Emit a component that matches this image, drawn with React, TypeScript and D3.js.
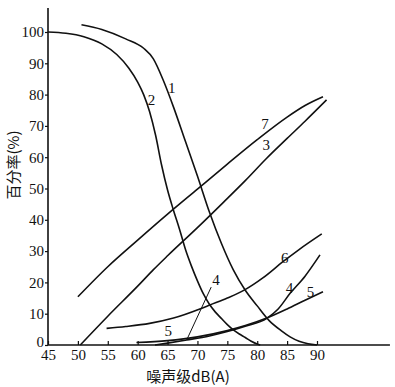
import { useEffect, useRef } from "react";
import * as d3 from "d3";

// tick values
const xTicks = [45, 50, 55, 60, 65, 70, 75, 80, 85, 90];
const yTicks = [0, 10, 20, 30, 40, 50, 60, 70, 80, 90, 100];

// curves, [dB(A), %]
const curve1 = [[50.6, 102.3], [54, 100.8], [58, 97.8], [61, 94.8], [62.6, 91.5], [64.3, 84.5], [66, 76], [68, 65], [70, 54], [72, 42.5], [74, 32.5], [76, 24], [78, 17.5], [80, 12.5], [82, 7.8], [84, 4.6], [85.5, 2.6], [87, 1.2], [88.5, 0.4], [90, 0]];
const curve2 = [[45, 100], [48, 99.6], [51, 98.5], [54, 96.2], [56.5, 92.8], [58.5, 88.5], [60, 84], [61, 80], [62, 74.5], [63, 67], [64, 57.5], [65, 49.5], [66, 43], [67, 37], [68, 30.5], [69, 25.2], [70, 20.5], [71, 16.3], [72, 13], [73, 10.5], [74, 8.5], [75, 6.5], [76, 4.8], [77, 3.5], [78, 2.4], [79, 1.2], [80, 0.3], [80.5, 0]];
const curve3 = [[50.4, 0], [55, 9.2], [60, 18.8], [62.6, 24], [65, 28.5], [70, 37.5], [74.3, 45.5], [78, 52.5], [81.5, 59.5], [85, 66], [88, 71.5], [91.6, 78.3]];
const curve4 = [[62.9, 0], [65, 0.6], [68.2, 1.6], [72, 2.9], [75, 4.3], [78, 6], [81.6, 8.5], [83.5, 11.5], [85.5, 16.5], [88, 22], [90.5, 28.8]];
const curve5 = [[59.8, 0.8], [65, 1.4], [70, 2.6], [75, 4.6], [78, 6.2], [81.6, 8.6], [85, 11.5], [88, 14.3], [91, 17]];
const curve6 = [[54.8, 5.3], [58, 5.9], [62, 6.9], [66, 8.6], [70.4, 11.5], [72.1, 12.8], [75, 15], [77.9, 17.6], [81, 21.5], [84.3, 26.6], [87, 30.5], [90.8, 35.5]];
const curve7 = [[50, 15.4], [55, 25], [60, 33.5], [65, 41.8], [70, 49.8], [75, 57.8], [80, 65.6], [85, 72.8], [88, 76.5], [91, 79.3]];

const curves = [curve1, curve2, curve3, curve4, curve5, curve6, curve7];

// curve numbers and where they sit
const labelText = ["1", "2", "7", "3", "6", "4", "5", "4", "5"];
const labelX = [65.7, 62.3, 81.3, 81.5, 84.6, 85.4, 88.9, 73.1, 65.1];
const labelY = [82.3, 78.3, 70.6, 64.1, 27.9, 18.4, 17.0, 21.0, 4.6];

// pointer from the middle "4" down to curve 4
const leader = [[72.3, 18.5], [68.2, 1.6]];

export default function App() {
    const svgRef = useRef(null);

    useEffect(() => {
        if (!svgRef.current) return;
        const svg = d3.select(svgRef.current);
        svg.selectAll("*").remove();

        const x = d3.scaleLinear().domain([45, 90]).range([48, 317]);
        const y = d3.scaleLinear().domain([0, 100]).range([345, 32]);

        const serif = "Liberation Serif, DejaVu Serif, serif";
        const cjk = "Noto Sans CJK SC, sans-serif";

        const xAxis = d3.axisBottom(x).tickValues(xTicks).tickSize(-4).tickPadding(4).tickSizeOuter(0);
        const yAxis = d3.axisLeft(y).tickValues(yTicks).tickSize(3).tickPadding(1).tickSizeOuter(0);

        const gx = svg.append("g").attr("transform", `translate(0, ${y(0)})`).call(xAxis);
        const gy = svg.append("g").attr("transform", `translate(${x(45)}, 0)`).call(yAxis);

        for (const g of [gx, gy]) {
            g.attr("font-family", null).attr("font-size", null);
            g.select(".domain").remove();
            g.selectAll("line").attr("stroke", "#111").attr("stroke-width", 1.2);
            g.selectAll("text")
                .attr("fill", "#111")
                .style("font-size", "15px")
                .style("font-family", serif);
        }
        // nudge the 0 label up a bit so it clears the 45 below it
        gy.selectAll("text").filter((d) => d === 0).attr("dy", "0.1em");

        // axis lines run past the last ticks
        svg.append("line")
            .attr("x1", x(45)).attr("x2", x(102.2))
            .attr("y1", y(0)).attr("y2", y(0))
            .attr("stroke", "#111").attr("stroke-width", 1.6);
        svg.append("line")
            .attr("x1", x(45)).attr("x2", x(45))
            .attr("y1", y(0)).attr("y2", y(107.7))
            .attr("stroke", "#111").attr("stroke-width", 1.6);

        const line = d3.line()
            .x((d) => x(d[0]))
            .y((d) => y(d[1]))
            .curve(d3.curveMonotoneX);

        svg.selectAll(".curve")
            .data(curves)
            .join("path")
            .attr("class", "curve")
            .attr("fill", "none")
            .attr("stroke", "#111")
            .attr("stroke-width", 1.6)
            .attr("d", line);

        svg.append("path")
            .datum(leader)
            .attr("fill", "none")
            .attr("stroke", "#111")
            .attr("stroke-width", 1)
            .attr("d", d3.line().x((d) => x(d[0])).y((d) => y(d[1])));

        svg.selectAll(".lbl")
            .data(labelText)
            .join("text")
            .attr("class", "lbl")
            .attr("x", (d, i) => x(labelX[i]))
            .attr("y", (d, i) => y(labelY[i]))
            .attr("dy", "0.35em")
            .attr("text-anchor", "middle")
            .style("font-family", serif)
            .style("font-size", "15px")
            .attr("fill", "#111")
            .text((d) => d);

        svg.append("text")
            .attr("x", 188)
            .attr("y", 382)
            .attr("text-anchor", "middle")
            .style("font-family", cjk)
            .style("font-size", "15px")
            .attr("fill", "#111")
            .text("噪声级dB(A)");

        svg.append("text")
            .attr("transform", "translate(19, 165) rotate(-90)")
            .attr("text-anchor", "middle")
            .style("font-family", cjk)
            .style("font-size", "15px")
            .attr("fill", "#111")
            .text("百分率(%)");
    }, []);

    return (
        <svg ref={svgRef} width="395" height="387" style={{ position: "absolute", left: 0, top: 0, background: "#fff" }}></svg>
    );
}
